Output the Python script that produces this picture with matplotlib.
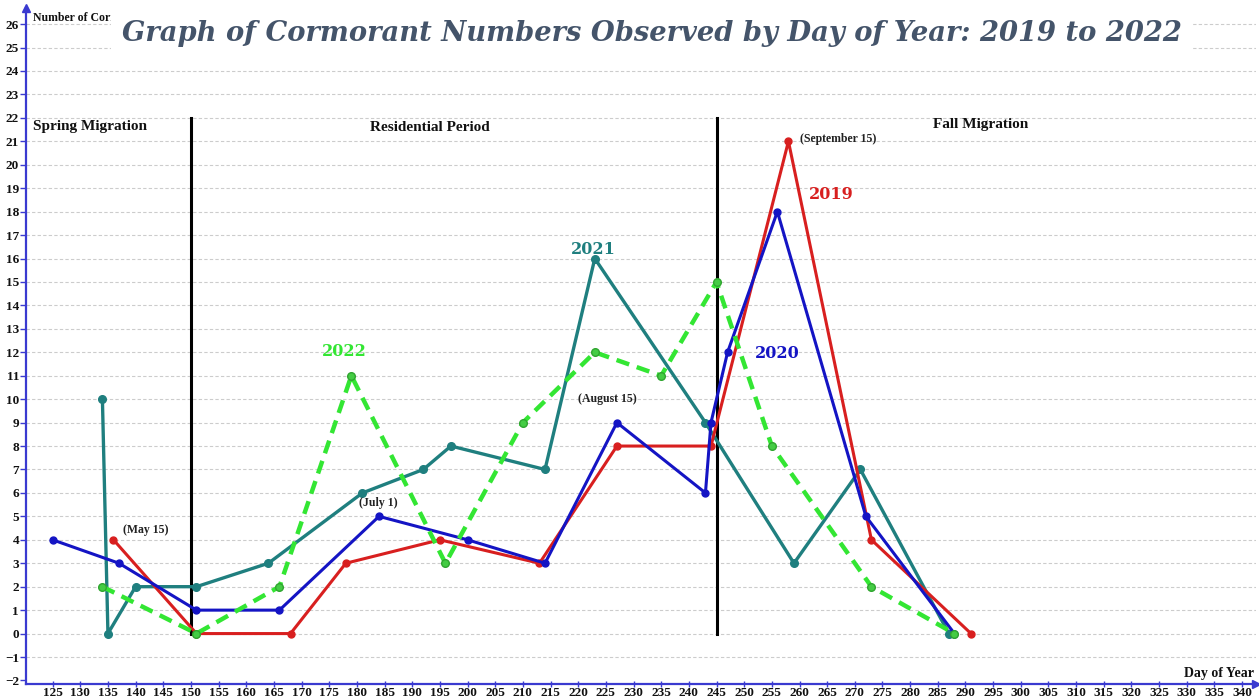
import numpy as np
import matplotlib
matplotlib.use("Agg")
import matplotlib.pyplot as plt

# Observations (day of year, number of cormorants)
days_2019 = [136, 151, 168, 178, 195, 213, 227, 244, 258, 273, 291]
counts_2019 = [4, 0, 0, 3, 4, 3, 8, 8, 21, 4, 0]

days_2020 = [125, 137, 151, 166, 184, 200, 214, 227, 243, 244, 247, 256, 272, 288]
counts_2020 = [4, 3, 1, 1, 5, 4, 3, 9, 6, 9, 12, 18, 5, 0]

days_2021 = [134, 135, 140, 151, 164, 181, 192, 197, 214, 223, 243, 259, 271, 287]
counts_2021 = [10, 0, 2, 2, 3, 6, 7, 8, 7, 16, 9, 3, 7, 0]

days_2022 = [134, 151, 166, 179, 196, 210, 223, 235, 245, 255, 273, 288]
counts_2022 = [2, 0, 2, 11, 3, 9, 12, 11, 15, 8, 2, 0]

period_bounds = [150, 245]
period_names = ["Spring Migration", "Residential Period", "Fall Migration"]
date_notes = ["(May 15)", "(July 1)", "(August 15)", "(September 15)"]
year_labels = ["2019", "2020", "2021", "2022"]

red = "#d81f1f"
blue = "#1414c4"
teal = "#1f7f7f"
green = "#33e633"
axis_blue = "#3a3ad0"
serif = ["Liberation Serif", "DejaVu Serif"]

fig = plt.figure(figsize=(12.59, 7), dpi=100)
ax = fig.add_axes([0.0207, 0.0229, 0.9773, 0.9661])
ax.set_xlim(120.2, 342.6)
ax.set_ylim(-2.15, 26.7)

for y in range(-1, 27):
    ax.axhline(y, color="#cccccc", lw=0.8, ls=(0, (3, 2)), zorder=0)

# period dividers
for b in period_bounds:
    ax.plot([b, b], [0, 22], color="black", lw=2.2, zorder=2)

ax.plot(days_2019, counts_2019, "-o", color=red, lw=2.2, ms=5, zorder=4)
ax.plot(days_2020, counts_2020, "-o", color=blue, lw=2.2, ms=5, zorder=4)
ax.plot(days_2021, counts_2021, "-o", color=teal, lw=2.4, ms=5.5, zorder=3)
ax.plot(days_2022, counts_2022, "--o", color=green, lw=3.2, ms=5.5,
        dashes=(3, 1.8), mfc="#44cc44", mec="#2fa52f", zorder=5)

bold = dict(family=serif, fontweight="bold")
ax.text(121.5, 21.64, period_names[0], va="center", fontsize=11, color="#111111", **bold)
ax.text(193.2, 21.6, period_names[1], ha="center", va="center", fontsize=11, color="#111111", **bold)
ax.text(292.7, 21.7, period_names[2], ha="center", va="center", fontsize=11, color="#111111", **bold)

note_pos = [(141.9, 4.43), (183.8, 5.58), (225.2, 10.0), (267.0, 21.1)]
for (x, y), t in zip(note_pos, date_notes):
    ax.text(x, y, t, ha="center", va="center", fontsize=8.5, color="#222222", **bold)

year_pos = [(265.8, 18.74), (256.0, 11.95), (222.7, 16.4), (177.7, 12.04)]
for (x, y), t, c in zip(year_pos, year_labels, [red, blue, teal, green]):
    ax.text(x, y, t, ha="center", va="center", color=c, fontsize=11.5,
            family=["DejaVu Serif"], fontweight="bold")

ax.set_xticks(np.arange(125, 341, 5))
ax.set_yticks(np.arange(-2, 27, 1))
ax.tick_params(axis="both", colors=axis_blue, width=1)
ax.tick_params(axis="x", direction="inout", length=5, pad=0)
ax.tick_params(axis="y", length=4, pad=1)
for lab in ax.get_xticklabels() + ax.get_yticklabels():
    lab.set_fontfamily(serif)
    lab.set_fontweight("bold")
    lab.set_fontsize(9.5)
    lab.set_color("#111111")

for s in ["top", "right"]:
    ax.spines[s].set_visible(False)
for s in ["left", "bottom"]:
    ax.spines[s].set_color(axis_blue)
    ax.spines[s].set_linewidth(1.6)
ax.plot(1, 0, ">", color=axis_blue, ms=6, transform=ax.transAxes, clip_on=False)
ax.plot(0, 1, "^", color=axis_blue, ms=6, transform=ax.transAxes, clip_on=False)

ax.text(0.006, 0.985, "Number of Cormorants", transform=ax.transAxes,
        fontsize=8.5, color="#111111", va="center", **bold)
ax.text(342.2, -1.72, "Day of Year", ha="right", va="center",
        fontsize=10, color="#111111", **bold)

fig.text(0.518, 0.952, "Graph of Cormorant Numbers Observed by Day of Year: 2019 to 2022",
         ha="center", va="center", fontsize=19.7, fontstyle="italic", fontweight="bold",
         family=["DejaVu Serif"], color="#44546a",
         bbox=dict(facecolor="white", edgecolor="none", pad=8))

fig.savefig("out.png", dpi=100)
